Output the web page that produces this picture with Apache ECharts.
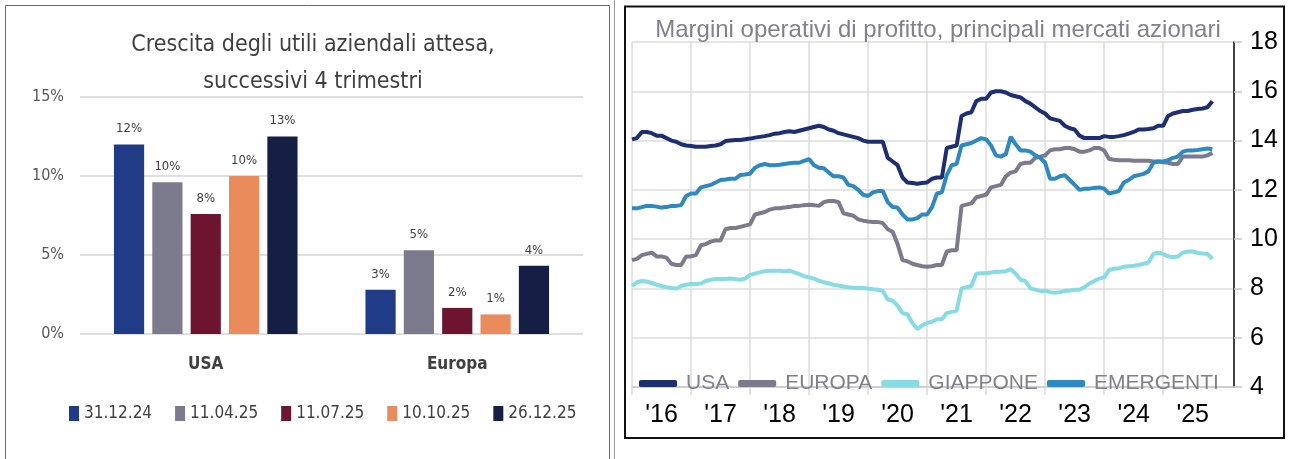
<!DOCTYPE html>
<html lang="it">
<head>
<meta charset="UTF-8">
<title>Utili attesi e margini operativi</title>
<script src="https://cdn.jsdelivr.net/npm/echarts@6/dist/echarts.min.js"></script>
<style>
    html, body { margin: 0; padding: 0; background: #fff; }
    #container { width: 1290px; height: 459px; }
</style>
</head>
<body>
<div id="container"></div>
<script>
// --- left chart: expected earnings growth, next 4 quarters (%)
var barDates = ['31.12.24', '11.04.25', '11.07.25', '10.10.25', '26.12.25'];
var regions = ['USA', 'Europa'];
var usaGrowth = [12.0, 9.6, 7.6, 10.0, 12.5];
var europeGrowth = [2.8, 5.3, 1.65, 1.24, 4.32];
var growthTicks = [0, 5, 10, 15];

// --- right chart: operating margins, monthly from Jan 2016
var firstYear = 2016;
var yearLabels = ["'16", "'17", "'18", "'19", "'20", "'21", "'22", "'23", "'24", "'25"];
var lineNames = ['USA', 'EUROPA', 'GIAPPONE', 'EMERGENTI'];
var usaMargin = [
    14.05, 14.1, 14.35, 14.35, 14.3, 14.2, 14.2, 14.1, 14.0, 13.95, 13.85, 13.8,
    13.78, 13.75, 13.75, 13.75, 13.78, 13.8, 13.85, 13.98, 14.0, 14.02, 14.02, 14.05,
    14.08, 14.12, 14.15, 14.18, 14.22, 14.28, 14.3, 14.35, 14.38, 14.35, 14.4, 14.45,
    14.5, 14.55, 14.6, 14.55, 14.45, 14.4, 14.3, 14.25, 14.2, 14.15, 14.1, 14.0,
    13.95, 13.95, 13.95, 13.95, 13.3, 13.15, 13.0, 12.5, 12.3, 12.28, 12.25, 12.28,
    12.3, 12.45, 12.5, 12.5, 13.7, 13.75, 13.8, 15.0, 15.1, 15.15, 15.6, 15.7,
    15.7, 15.95, 16.0, 16.0, 15.95, 15.85, 15.8, 15.75, 15.6, 15.5, 15.35, 15.2,
    15.1, 14.9, 14.85, 14.8, 14.6, 14.5, 14.45, 14.2, 14.1, 14.1, 14.1, 14.1,
    14.18, 14.15, 14.15, 14.18, 14.22, 14.28, 14.35, 14.45, 14.45, 14.47, 14.5, 14.6,
    14.6, 15.0, 15.1, 15.15, 15.2, 15.2, 15.25, 15.28, 15.3, 15.35, 15.6
];
var europeMargin = [
    9.15, 9.2, 9.35, 9.4, 9.45, 9.3, 9.3, 9.25, 9.0, 8.95, 8.95, 9.3,
    9.3, 9.35, 9.75, 9.8, 9.9, 9.95, 9.95, 10.4, 10.45, 10.45, 10.5, 10.55,
    10.6, 11.0, 11.05, 11.1, 11.2, 11.25, 11.25, 11.28, 11.3, 11.35, 11.35, 11.38,
    11.4, 11.38, 11.35, 11.5, 11.55, 11.55, 11.5, 11.05, 11.0, 10.95, 10.8, 10.75,
    10.72, 10.7, 10.7, 10.65, 10.4, 10.3, 9.8, 9.15, 9.1, 9.0, 8.95, 8.9,
    8.88, 8.9, 8.95, 8.95, 9.5, 9.55, 9.55, 11.35, 11.4, 11.45, 11.7, 11.75,
    11.8, 12.1, 12.15, 12.2, 12.55, 12.7, 12.75, 13.05, 13.1, 13.1, 13.3, 13.35,
    13.4, 13.6, 13.65, 13.65, 13.7, 13.7, 13.65, 13.55, 13.55, 13.6, 13.7, 13.7,
    13.6, 13.25, 13.22, 13.2, 13.2, 13.2, 13.18, 13.18, 13.18, 13.18, 13.15, 13.15,
    13.12, 13.1, 13.05, 13.05, 13.35, 13.35, 13.35, 13.35, 13.35, 13.4, 13.5
];
var japanMargin = [
    8.1, 8.25, 8.3, 8.28, 8.22, 8.15, 8.1, 8.05, 8.02, 8.0, 8.1, 8.15,
    8.18, 8.18, 8.2, 8.3, 8.35, 8.38, 8.38, 8.38, 8.4, 8.38, 8.35, 8.4,
    8.55, 8.6, 8.65, 8.7, 8.72, 8.72, 8.72, 8.7, 8.72, 8.65, 8.58, 8.5,
    8.45, 8.4, 8.32, 8.25, 8.2, 8.15, 8.12, 8.08, 8.05, 8.03, 8.02, 8.02,
    8.0, 7.97, 7.95, 7.9, 7.55, 7.5, 7.3, 7.0, 6.95, 6.6, 6.35, 6.5,
    6.6, 6.65, 6.75, 6.75, 7.0, 7.05, 7.1, 8.0, 8.05, 8.1, 8.6, 8.62,
    8.62, 8.65, 8.68, 8.68, 8.7, 8.78, 8.6, 8.35, 8.3, 8.0, 7.95, 7.9,
    7.9, 7.85, 7.82, 7.85, 7.9, 7.92, 7.95, 7.95, 8.05, 8.2, 8.3, 8.4,
    8.45, 8.75, 8.8, 8.82, 8.88, 8.9, 8.92, 8.95, 9.0, 9.05, 9.4, 9.45,
    9.4, 9.3, 9.28, 9.3, 9.45, 9.5, 9.5, 9.45, 9.42, 9.4, 9.2
];
var emergingMargin = [
    11.25, 11.25, 11.3, 11.35, 11.35, 11.32, 11.28, 11.3, 11.35, 11.35, 11.38, 11.75,
    11.85, 11.85, 12.1, 12.15, 12.2, 12.3, 12.4, 12.42, 12.45, 12.45, 12.6, 12.62,
    12.65, 12.9, 13.0, 13.05, 13.0, 13.0, 13.02, 13.05, 13.08, 13.1, 13.1, 13.18,
    13.25, 13.0, 12.9, 12.88, 12.7, 12.55, 12.55, 12.5, 12.2, 12.15, 12.0, 11.8,
    11.75, 11.9, 11.95, 11.95, 11.5, 11.3, 11.28, 11.0, 10.8, 10.8, 10.85, 11.0,
    11.0, 11.3, 11.85, 11.9, 12.6, 13.0, 13.05, 13.8, 13.85, 13.9, 14.0, 14.1,
    14.05, 13.8, 13.4, 13.35, 13.45, 14.15, 13.85, 13.6, 13.6, 13.55, 13.4, 13.3,
    13.1, 12.45, 12.45, 12.55, 12.6, 12.4, 12.2, 12.0, 12.05, 12.05, 12.08, 12.1,
    12.05, 11.85, 11.9, 11.95, 12.3, 12.4, 12.55, 12.6, 12.65, 12.75, 13.1, 13.15,
    13.15, 13.2, 13.3, 13.35, 13.55, 13.6, 13.6, 13.62, 13.65, 13.68, 13.65
];
var marginTicks = [4, 6, 8, 10, 12, 14, 16, 18];

var narrow = '"Liberation Sans Narrow", "DejaVu Sans Condensed", sans-serif';
var arial = '"Liberation Sans", Arial, sans-serif';
var barColors = ['#203c86', '#7c7b8d', '#6d1431', '#e98b5a', '#151e45'];
var lineColors = ['#1d2f72', '#7b7b8d', '#86dbe4', '#2e88c2'];

function withMonths(values) {
    return values.map(function (v, i) { return [firstYear + i / 12, v]; });
}

var yearStarts = yearLabels.map(function (l, i) { return firstYear + i; });
var yearMids = yearLabels.map(function (l, i) { return firstYear + i + 0.5; });

var barSeries = barDates.map(function (d, i) {
    return {
        name: d,
        type: 'bar',
        xAxisIndex: 0,
        yAxisIndex: 0,
        barGap: '27%',
        barCategoryGap: '27%',
        itemStyle: { color: barColors[i] },
        label: {
            show: true,
            position: 'top',
            distance: 9,
            fontFamily: narrow,
            fontSize: 13,
            color: '#404040',
            formatter: function (p) { return Math.round(p.value) + '%'; }
        },
        data: [usaGrowth[i], europeGrowth[i]]
    };
});

var lineData = [usaMargin, europeMargin, japanMargin, emergingMargin];
var lineSeries = lineNames.map(function (n, i) {
    return {
        name: n,
        type: 'line',
        xAxisIndex: 1,
        yAxisIndex: 1,
        showSymbol: false,
        symbol: 'none',
        lineStyle: { width: 4, color: lineColors[i] },
        itemStyle: { color: lineColors[i] },
        z: 3 + (i === 0 ? 1 : 0),
        data: withMonths(lineData[i])
    };
});

var options = {
    animation: false,
    title: [
        {
            text: 'Crescita degli utili aziendali attesa,\nsuccessivi 4 trimestri',
            left: 308,
            top: 22,
            textAlign: 'center',
            textStyle: { fontFamily: narrow, fontSize: 23, lineHeight: 37, fontWeight: 'normal', color: '#404040' }
        },
        {
            text: 'Margini operativi di profitto, principali mercati azionari',
            left: 933,
            top: 13,
            textAlign: 'center',
            textStyle: { fontFamily: arial, fontSize: 24, lineHeight: 24, fontWeight: 'normal', color: '#80808f' }
        }
    ],
    legend: [
        {
            data: barDates,
            left: 64,
            top: 400,
            icon: 'rect',
            itemWidth: 10,
            itemHeight: 15,
            itemGap: 23,
            textStyle: { fontFamily: narrow, fontSize: 17, color: '#404040' }
        },
        {
            data: lineNames,
            left: 634,
            top: 368,
            icon: 'roundRect',
            itemWidth: 38,
            itemHeight: 7,
            itemGap: 9,
            textStyle: { fontFamily: arial, fontSize: 21, color: '#80808f', padding: [0, 0, 0, 4] }
        }
    ],
    grid: [
        { left: 80, right: 707, top: 97, bottom: 125 },
        { left: 632, right: 56, top: 42, bottom: 72 }
    ],
    xAxis: [
        {
            type: 'category',
            gridIndex: 0,
            data: regions,
            axisLine: { show: false },
            axisTick: { show: false },
            axisLabel: { margin: 22, fontFamily: narrow, fontSize: 17, fontWeight: 'bold', color: '#404040' }
        },
        {
            type: 'value',
            gridIndex: 1,
            min: firstYear,
            max: firstYear + 10.2,
            axisLine: { show: true, lineStyle: { color: '#c8c8c8', width: 1.5 } },
            axisTick: { show: true, length: 8, customValues: yearStarts, lineStyle: { color: '#d9d9d9', width: 1.5 } },
            splitLine: { show: true, lineStyle: { color: '#dcdcdc', width: 1.5 } },
            axisLabel: {
                customValues: yearMids,
                margin: 16,
                fontFamily: arial,
                fontSize: 25,
                color: '#000',
                formatter: function (v) { return yearLabels[Math.floor(v) - firstYear]; }
            }
        }
    ],
    yAxis: [
        {
            type: 'value',
            gridIndex: 0,
            min: growthTicks[0],
            max: growthTicks[growthTicks.length - 1],
            interval: 5,
            axisLine: { show: false },
            axisTick: { show: false },
            splitLine: { lineStyle: { color: '#d4d4d4', width: 1.5 } },
            axisLabel: { margin: 16, fontFamily: narrow, fontSize: 16, color: '#595959', formatter: '{value}%' }
        },
        {
            type: 'value',
            gridIndex: 1,
            position: 'right',
            min: marginTicks[0],
            max: marginTicks[marginTicks.length - 1],
            interval: 2,
            axisLine: { show: true, lineStyle: { color: '#000', width: 1.5 } },
            axisTick: { show: true, length: 8, lineStyle: { color: '#c8c8c8', width: 1.5 } },
            splitLine: { show: true, lineStyle: { color: '#dcdcdc', width: 1.5 } },
            axisLabel: { margin: 16, fontFamily: arial, fontSize: 25, color: '#000' }
        }
    ],
    graphic: [
        {
            type: 'rect',
            silent: true,
            shape: { x: 5.5, y: 5.5, width: 604, height: 470 },
            style: { fill: 'none', stroke: '#6a6a6a', lineWidth: 1 }
        },
        {
            type: 'line',
            silent: true,
            shape: { x1: 614.5, y1: 0, x2: 614.5, y2: 459 },
            style: { stroke: '#9a9a9a', lineWidth: 1 }
        },
        {
            type: 'rect',
            silent: true,
            shape: { x: 625, y: 6.5, width: 659, height: 431.5 },
            style: { fill: 'none', stroke: '#111', lineWidth: 2 }
        }
    ],
    series: barSeries.concat(lineSeries)
};

var myChart = echarts.init(document.getElementById('container'));
myChart.setOption(options);
</script>
</body>
</html>
